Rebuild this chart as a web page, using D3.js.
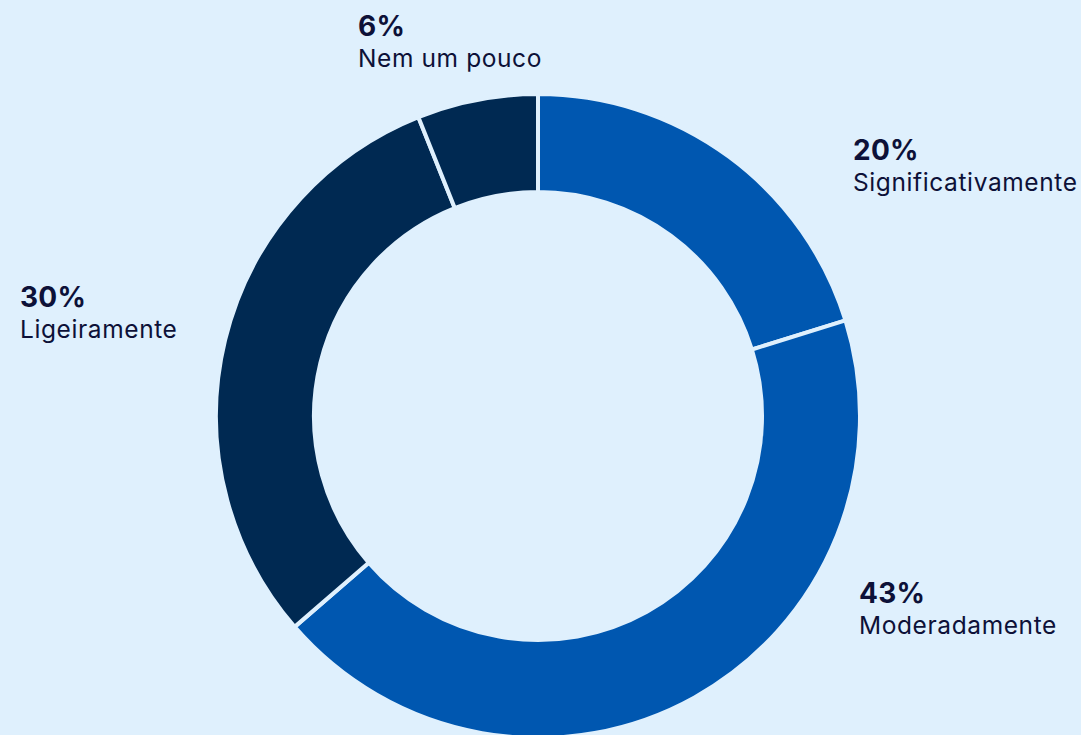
<!DOCTYPE html>
<html><head><meta charset="utf-8">
<script src="https://cdn.jsdelivr.net/npm/d3@7"></script>
<style>
html,body{margin:0;padding:0;background:#dff0fd;}
svg{display:block;}
</style></head>
<body>
<svg id="chart" width="1081" height="735"></svg>
<script>
const categories = ["Significativamente", "Moderadamente", "Ligeiramente", "Nem um pouco"];
const values = [20, 43, 30, 6];
const percentLabels = ["20%", "43%", "30%", "6%"];
const colors = ["#0057b0", "#0057b0", "#002952", "#002952"];

// layout (label anchor positions, left-aligned)
const labelPos = [[853, 160], [859, 603], [20, 307], [358, 36]];

const svg = d3.select("#chart");
const W = 1081, H = 735;
svg.append("rect").attr("width", W).attr("height", H).attr("fill", "#dff0fd");

const cx = 538, cy = 416, rOuter = 322, rInner = 224;
const pie = d3.pie().sort(null).value(d => d)(values);
const arc = d3.arc().innerRadius(rInner).outerRadius(rOuter);

const g = svg.append("g").attr("transform", `translate(${cx},${cy})`);
g.selectAll("path").data(pie).join("path")
  .attr("d", arc)
  .attr("fill", (d, i) => colors[i])
  .attr("stroke", "#dff0fd")
  .attr("stroke-width", 4)
  .attr("stroke-linejoin", "miter");

const lab = svg.append("g").attr("font-family", "Inter, 'Noto Sans', sans-serif").attr("fill", "#0d1138");
categories.forEach((c, i) => {
  const [x, y] = labelPos[i];
  lab.append("text").attr("x", x).attr("y", y)
    .attr("font-size", 28).attr("font-weight", 700).attr("letter-spacing", 0.3).text(percentLabels[i]);
  lab.append("text").attr("x", x).attr("y", y + 31)
    .attr("font-size", 24.5).attr("font-weight", 400).attr("letter-spacing", 0.6).text(c);
});
</script>
</body></html>
